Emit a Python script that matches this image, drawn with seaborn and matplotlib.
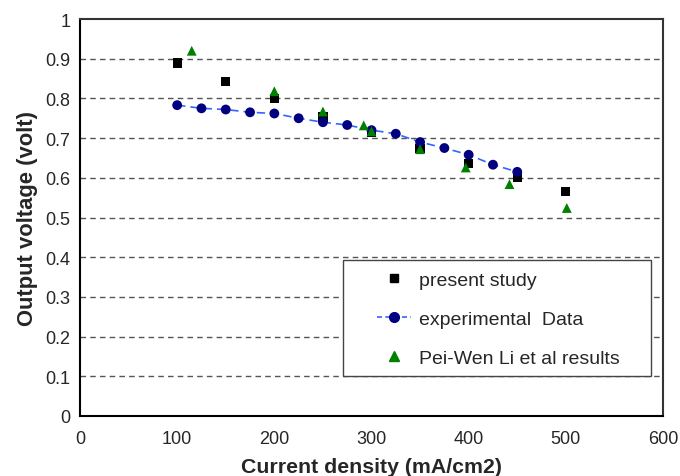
import matplotlib
matplotlib.use("Agg")
import matplotlib.pyplot as plt
from matplotlib.lines import Line2D
from matplotlib.patches import Rectangle
import seaborn as sns
import pandas as pd

# present study
present_x = [100, 150, 200, 250, 300, 350, 400, 450, 500]
present_y = [0.889, 0.843, 0.799, 0.753, 0.714, 0.674, 0.636, 0.601, 0.566]

# experimental data
exp_x = [100, 125, 150, 175, 200, 225, 250, 275, 300, 325, 350, 375, 400, 425, 450]
exp_y = [0.783, 0.775, 0.772, 0.765, 0.762, 0.750, 0.740, 0.733, 0.720, 0.711,
         0.690, 0.675, 0.658, 0.633, 0.615]

# Pei-Wen Li et al results
li_x = [115, 200, 250, 292, 300, 350, 397, 442, 501]
li_y = [0.920, 0.818, 0.767, 0.732, 0.717, 0.672, 0.626, 0.584, 0.524]

x_ticks = [0, 100, 200, 300, 400, 500, 600]
y_ticks = [0, 0.1, 0.2, 0.3, 0.4, 0.5, 0.6, 0.7, 0.8, 0.9, 1]
y_ticklabels = ["0", "0.1", "0.2", "0.3", "0.4", "0.5", "0.6", "0.7", "0.8", "0.9", "1"]

sns.set_style("white")
plt.rcParams['font.family'] = ['Liberation Sans', 'DejaVu Sans']

fig = plt.figure(figsize=(6.8, 4.77), dpi=100)
ax = fig.add_axes([80/680, 1-417/477, 583/680, 397/477])

df_p = pd.DataFrame({"x": present_x, "y": present_y})
df_e = pd.DataFrame({"x": exp_x, "y": exp_y})
df_l = pd.DataFrame({"x": li_x, "y": li_y})

for v in y_ticks[1:-1]:
    ax.axhline(v, color="#555555", lw=1.0, ls=(0, (4, 3)), zorder=1)

sns.lineplot(data=df_e, x="x", y="y", ax=ax, color="#3366ff", lw=1.2,
             linestyle=(0, (5, 3)), zorder=2)
sns.scatterplot(data=df_p, x="x", y="y", ax=ax, marker="s", color="black",
                s=45, edgecolor="none", zorder=3)
sns.scatterplot(data=df_e, x="x", y="y", ax=ax, marker="o", color="#000080",
                s=50, edgecolor="none", zorder=4)
sns.scatterplot(data=df_l, x="x", y="y", ax=ax, marker="^", color="#008000",
                s=50, edgecolor="none", zorder=5)

ax.set_xlim(0, 600)
ax.set_ylim(0, 1)
ax.set_xticks(x_ticks)
ax.set_yticks(y_ticks)
ax.set_yticklabels(y_ticklabels)
ax.tick_params(axis="x", direction="out", length=6, width=1.2, labelsize=13, pad=4, color="black")
ax.tick_params(axis="y", direction="inout", length=12, width=1.2, labelsize=13, pad=1, color="black")
ax.set_xlabel("Current density (mA/cm2)", fontsize=15.3, fontweight="bold", labelpad=7)
ax.set_ylabel("Output voltage (volt)", fontsize=15.8, fontweight="bold", labelpad=5)
for side in ["left", "bottom"]:
    ax.spines[side].set_color("black")
    ax.spines[side].set_linewidth(1.5)
for side in ["top", "right"]:
    ax.spines[side].set_color("#333333")
    ax.spines[side].set_linewidth(1.5)

# legend frame
x0, x1 = (343 - 80) / 583, (651 - 80) / 583
y0, y1 = (417 - 377) / 397, (417 - 261) / 397
ax.add_patch(Rectangle((x0, y0), x1 - x0, y1 - y0, transform=ax.transAxes,
                       facecolor="white", edgecolor="#444444", lw=1.0, zorder=9))

handles = [
    Line2D([], [], marker="s", color="black", ls="none", markersize=6),
    Line2D([], [], marker="o", color="#3366ff", ls=(0, (3, 2)), lw=1.2,
           markerfacecolor="#000080", markeredgecolor="#000080", markersize=7),
    Line2D([], [], marker="^", color="#008000", ls="none", markersize=7),
]
labels = ["present study", "experimental  Data", "Pei-Wen Li et al results"]
leg = ax.legend(handles, labels, loc="center", bbox_to_anchor=(0.718, 0.2443),
                fontsize=14, frameon=False, labelspacing=1.1, handlelength=1.75,
                handletextpad=0.4, borderpad=0.0, borderaxespad=0)
leg.set_zorder(10)

fig.savefig("out.png", dpi=100, facecolor="white")
